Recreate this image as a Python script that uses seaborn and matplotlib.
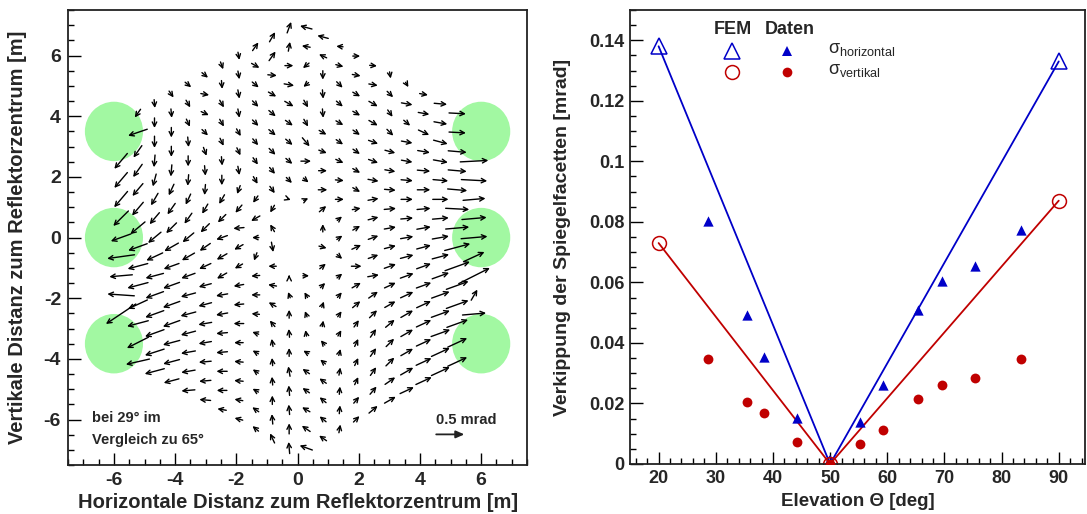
import numpy as np
import pandas as pd
import matplotlib
matplotlib.use("Agg")
import matplotlib.pyplot as plt
from matplotlib.patches import Ellipse
from matplotlib.ticker import MultipleLocator, FuncFormatter
import seaborn as sns

# ---------------------------------------------------------------------------
# Left panel: facet tilt at 29 deg elevation relative to 65 deg
# One list per facet column (left to right), facets listed top to bottom.
# Direction of the tilt in degrees (0 = +x, 90 = +y) and magnitude in mrad.
# ---------------------------------------------------------------------------
tilt_dir_deg = [
    [-130, -130, -130, -135, -160, -172, -175, 176, -146],
    [-125, -161, -125, -125, -130, -130, -140, -160, -165, -165, -155, -165, -153, -167],
    [-85, -90, -90, -95, -105, -120, -130, -140, -155, -165, -160, -160, -160, -162, -165],
    [-55, -85, -90, -90, -95, -115, -125, -135, -150, -160, -160, -160, -160, -165, -165, -165],
    [-40, -60, -65, -85, -90, -95, -115, -125, -140, -150, -160, -165, -165, -165, -170, -170, -175],
    [-40, -10, -25, -45, -70, -85, -95, -120, -135, -145, -155, -165, -165, -170, -170, -175, -175, 175],
    [-70, -85, -60, -60, -65, -85, -90, -120, -135, -160, -150, -150, -170, -170, -175, -175, 180, 180, 170],
    [-80, -80, -80, -80, -60, -65, -80, -110, -130, -175, -150, -150, -170, -175, 180, 180, 175, 175, 170, 165],
    [55, -30, -40, -45, -45, -50, -55, -60, -125, -150, 180, -110, -175, 180, 175, 160, 150, 145, 150, 145, 140],
    [60, 55, -5, -30, -40, -40, -45, -50, -55, -120, 120, -80, 180, 170, 150, 130, 100, 95, 95, 90, 95, 115],
    [70, 80, 0, -10, -30, -35, -40, -40, -45, -20, 90, 110, 90, 95, 90, 100, 95, 95, 90, 95],
    [165, 170, -140, -140, -60, -60, -50, 0, -40, 25, 0, 120, 110, 100, 150, 145, 145, 150, 145, 160],
    [165, 155, -90, -85, -85, -30, -20, 0, 0, 40, 90, -15, 40, 45, 70, 80, 130, 140, 145, 140, 140, 145],
    [175, -15, -45, -40, -30, -35, -25, -5, 0, 40, 35, -40, 40, 50, 55, 60, 75, 80, 85, 85, 80],
    [0, -10, -30, -30, -35, -35, -30, -30, 10, 30, 25, 0, 30, 40, 55, 65, 65, 65, 50, 45],
    [-5, -10, -30, -30, -20, -20, -10, 10, 15, 20, 20, 10, 35, 45, 55, 55, 55, 50, 40],
    [-80, -45, -55, -45, -15, -10, -5, 5, 10, 15, 20, 25, 30, 40, 45, 45, 35, 30],
    [-60, -10, -40, -10, -10, -5, 0, 5, 10, 15, 20, 25, 30, 30, 30, 30, 25],
    [-10, -10, -25, -10, -5, 0, 5, 10, 15, 20, 20, 25, 25, 25, 25, 25],
    [-5, -10, -15, -10, -5, 0, 5, 10, 15, 20, 20, 20, 20, 25, 25],
    [-3, -3, -5, -5, -5, -3, 5, 15, 20, 20, 20, 20, 25, 25],
    [3, -3, 5, 5, 5, 25, 27, 60, 5],
]
tilt_mrad = [
    [.36, .36, .37, .38, .38, .49, .41, .48, .64],
    [.18, .36, .26, .28, .29, .31, .34, .36, .37, .38, .38, .39, .43, .43],
    [.15, .18, .21, .22, .23, .25, .27, .30, .32, .33, .34, .35, .36, .36, .36],
    [.14, .16, .18, .19, .21, .22, .24, .26, .29, .29, .31, .32, .32, .31, .30, .28],
    [.14, .15, .15, .18, .19, .20, .21, .23, .26, .26, .26, .27, .28, .27, .26, .25, .24],
    [.14, .15, .15, .15, .16, .18, .19, .20, .22, .23, .23, .23, .24, .24, .23, .22, .21, .20],
    [.14, .15, .15, .15, .15, .16, .18, .19, .20, .21, .21, .20, .21, .21, .20, .20, .19, .18, .16],
    [.14, .15, .16, .16, .15, .15, .16, .16, .18, .19, .18, .16, .18, .18, .18, .16, .16, .16, .15, .15],
    [.18, .16, .15, .15, .15, .15, .15, .15, .15, .18, .12, .15, .15, .15, .14, .12, .12, .12, .12, .14, .14],
    [.20, .20, .16, .16, .16, .16, .16, .15, .15, .15, .15, .18, .14, .15, .15, .14, .14, .14, .15, .16, .18, .19],
    [.21, .17, .15, .18, .18, .16, .16, .15, .14, .06, .03, .11, .15, .15, .15, .18, .18, .18, .19, .21],
    [.22, .15, .14, .12, .15, .15, .20, .18, .12, .09, .11, .11, .11, .11, .11, .15, .15, .16, .18, .24],
    [.20, .15, .16, .16, .16, .15, .15, .15, .16, .16, .14, .14, .14, .12, .11, .11, .11, .12, .15, .15, .15, .16],
    [.12, .14, .15, .15, .15, .15, .15, .15, .15, .11, .12, .12, .12, .12, .12, .12, .12, .14, .14, .15, .15],
    [.13, .15, .15, .15, .15, .15, .15, .15, .15, .15, .18, .18, .18, .18, .15, .15, .15, .15, .15, .15],
    [.13, .16, .18, .18, .18, .18, .19, .19, .19, .19, .19, .20, .20, .19, .18, .18, .18, .18, .20],
    [.12, .15, .15, .16, .19, .19, .20, .21, .21, .21, .22, .22, .22, .21, .20, .21, .22, .23],
    [.10, .20, .15, .20, .20, .21, .21, .22, .23, .24, .25, .25, .25, .25, .25, .26, .27],
    [.15, .20, .21, .22, .23, .23, .24, .25, .26, .27, .28, .28, .29, .29, .30, .31],
    [.23, .24, .26, .26, .27, .28, .29, .30, .31, .32, .34, .35, .36, .36, .36],
    [.30, .30, .33, .33, .35, .42, .42, .47, .47, .42, .42, .40, .38, .38],
    [.50, .46, .40, .44, .47, .40, .62, .22, .42],
]
mast_x = [-6.0, -6.0, -6.0, 6.0, 6.0, 6.0]
mast_y = [3.5, 0.0, -3.5, 3.5, 0.0, -3.5]
scale_bar_mrad = 0.5

# ---------------------------------------------------------------------------
# Right panel: spread of the facet tilt versus elevation
# ---------------------------------------------------------------------------
fem_elev = [20, 50, 90]
fem_sigma_h = [0.138, 0.0, 0.133]
fem_sigma_v = [0.073, 0.0, 0.087]
data_elev = [28.7, 35.4, 38.5, 44.2, 50.0, 55.2, 59.2, 65.4, 69.6, 75.4, 83.4]
data_sigma_h = [0.0802, 0.0492, 0.0354, 0.0152, 0.0, 0.0138, 0.026, 0.051, 0.0603, 0.0654, 0.0772]
data_sigma_v = [0.0348, 0.0206, 0.0167, 0.0073, 0.0, 0.0066, 0.0112, 0.0216, 0.026, 0.0283, 0.0348]

# ---------------------------------------------------------------------------
sns.set_theme(style="white")
plt.rcParams["font.family"] = ["Liberation Sans", "DejaVu Sans"]
plt.rcParams["font.weight"] = "bold"
plt.rcParams["axes.unicode_minus"] = False
plt.rcParams["mathtext.fontset"] = "custom"
plt.rcParams["mathtext.rm"] = "Liberation Sans"
plt.rcParams["mathtext.it"] = "Liberation Sans:italic"
plt.rcParams["mathtext.bf"] = "Liberation Sans:bold"

BLUE = "#0000c8"
RED = "#c00000"
GREEN = "#a2f8a2"

fig = plt.figure(figsize=(10.87, 5.14), dpi=100)
ax1 = fig.add_axes([0.0626, 0.0953, 0.4223, 0.885])
ax2 = fig.add_axes([0.5796, 0.0973, 0.4186, 0.8833])

fmt = FuncFormatter(lambda v, p: f"{v:g}")


def style_axes(ax, xmaj, xmin, ymaj, ymin, labelsize, pad):
    ax.xaxis.set_major_locator(MultipleLocator(xmaj))
    ax.xaxis.set_minor_locator(MultipleLocator(xmin))
    ax.yaxis.set_major_locator(MultipleLocator(ymaj))
    ax.yaxis.set_minor_locator(MultipleLocator(ymin))
    ax.xaxis.set_major_formatter(fmt)
    ax.yaxis.set_major_formatter(fmt)
    ax.tick_params(which="both", direction="in", top=False, right=False,
                   bottom=True, left=True, color="black", width=1.0)
    ax.tick_params(which="major", length=9, labelsize=labelsize, pad=pad)
    ax.tick_params(which="minor", length=4.5)
    for lab in ax.get_xticklabels() + ax.get_yticklabels():
        lab.set_fontweight("bold")
    for sp in ax.spines.values():
        sp.set_color("#222222")
        sp.set_linewidth(1.3)
    ax.grid(False)
    ax.set_facecolor("white")


# ---------------- left panel ----------------
M_PER_MRAD = 1.84          # drawn arrow length per mrad of tilt
PITCH_X, PITCH_Y = 0.55, 0.63

for mx, my in zip(mast_x, mast_y):
    ax1.add_patch(Ellipse((mx, my), 1.9, 1.96, color=GREEN, lw=0, zorder=1))

arrow_style = dict(arrowstyle="->,head_length=0.32,head_width=0.16", lw=1.0,
                   color="black", shrinkA=0, shrinkB=0, mutation_scale=10)

n_cols = len(tilt_dir_deg)
for c in range(n_cols):
    j = int(round(abs(c - (n_cols - 1) / 2) - 0.5))
    x = (c - (n_cols - 1) / 2) * PITCH_X
    half = 11 - j / 2
    ys = np.arange(half, -half - 0.01, -1.0) * PITCH_Y
    if j == 0:
        ys = ys[np.abs(ys) > 1.0]
    if j == 10:
        ys = ys[np.abs(ys) < 2.6]
    for y, a, m in zip(ys, tilt_dir_deg[c], tilt_mrad[c]):
        dx = m * M_PER_MRAD * np.cos(np.radians(a))
        dy = m * M_PER_MRAD * np.sin(np.radians(a))
        ax1.annotate("", xy=(x + dx / 2, y + dy / 2), xytext=(x - dx / 2, y - dy / 2),
                     arrowprops=arrow_style, zorder=3)

# scale arrow
ax1.annotate("", xy=(4.53 + scale_bar_mrad * M_PER_MRAD, -6.49), xytext=(4.53, -6.49),
             arrowprops=dict(arrowstyle="-|>,head_length=0.5,head_width=0.22", lw=1.3,
                             color="#222222", shrinkA=0, shrinkB=0, mutation_scale=10))
ax1.text(4.53, -6.03, f"{scale_bar_mrad:g} mrad", fontsize=10.5, fontweight="bold",
         ha="left", va="center")
ax1.text(-6.72, -5.94, "bei 29° im", fontsize=10.5, fontweight="bold", ha="left", va="center")
ax1.text(-6.72, -6.66, "Vergleich zu 65°", fontsize=10.5, fontweight="bold", ha="left", va="center")

ax1.set_xlim(-7.5, 7.5)
ax1.set_ylim(-7.5, 7.5)
style_axes(ax1, 2, 0.5, 2, 0.5, labelsize=14, pad=5)
ax1.set_xlabel("Horizontale Distanz zum Reflektorzentrum [m]", fontsize=14.5, fontweight="bold")
ax1.set_ylabel("Vertikale Distanz zum Reflektorzentrum [m]", fontsize=14.5, fontweight="bold")
ax1.xaxis.set_label_coords(0.5, -0.083)
ax1.yaxis.set_label_coords(-0.111, 0.5)
ax1.xaxis.label.set_va("center")
ax1.yaxis.label.set_va("center")

# ---------------- right panel ----------------
fem_df = pd.DataFrame({"elev": fem_elev, "h": fem_sigma_h, "v": fem_sigma_v})
dat_df = pd.DataFrame({"elev": data_elev, "h": data_sigma_h, "v": data_sigma_v})

sns.lineplot(data=fem_df, x="elev", y="h", ax=ax2, color=BLUE, lw=1.3, marker="^",
             ms=11, mfc="none", mec=BLUE, mew=1.1, zorder=2)
sns.lineplot(data=fem_df, x="elev", y="v", ax=ax2, color=RED, lw=1.3, marker="o",
             ms=10, mfc="none", mec=RED, mew=1.1, zorder=2)
sns.scatterplot(data=dat_df, x="elev", y="h", ax=ax2, marker="^", s=55, color=BLUE,
                edgecolor=BLUE, linewidth=0, zorder=4)
sns.scatterplot(data=dat_df, x="elev", y="v", ax=ax2, marker="o", s=50, color=RED,
                edgecolor=RED, linewidth=0, zorder=4)

ax2.set_xlim(15, 94.6)
ax2.set_ylim(0, 0.15)
style_axes(ax2, 10, 2, 0.02, 0.005, labelsize=13, pad=4)
ax2.set_xlabel("Elevation Θ [deg]", fontsize=13.5, fontweight="bold")
ax2.set_ylabel("Verkippung der Spiegelfacetten [mrad]", fontsize=14, fontweight="bold")
ax2.xaxis.set_label_coords(0.5, -0.0837)
ax2.yaxis.set_label_coords(-0.149, 0.5)
ax2.xaxis.label.set_va("center")
ax2.yaxis.label.set_va("center")

# legend block
tr = ax2.transAxes
ax2.text(0.227, 0.958, "FEM", transform=tr, fontsize=13, fontweight="bold", ha="center", va="center")
ax2.text(0.352, 0.958, "Daten", transform=tr, fontsize=13, fontweight="bold", ha="center", va="center")
ax2.plot([0.225], [0.909], transform=tr, marker="^", ms=11, mfc="none", mec=BLUE, mew=1.1, ls="none")
ax2.plot([0.344], [0.909], transform=tr, marker="^", ms=7.5, color=BLUE, mew=0, ls="none")
ax2.plot([0.225], [0.864], transform=tr, marker="o", ms=10, mfc="none", mec=RED, mew=1.1, ls="none")
ax2.plot([0.344], [0.864], transform=tr, marker="o", ms=7, color=RED, mew=0, ls="none")
ax2.text(0.436, 0.912, r"$\mathregular{\sigma_{horizontal}}$", transform=tr, fontsize=13,
         fontweight="normal", ha="left", va="center")
ax2.text(0.436, 0.867, r"$\mathregular{\sigma_{vertikal}}$", transform=tr, fontsize=13,
         fontweight="normal", ha="left", va="center")

fig.savefig("out.png", dpi=100, facecolor="white")
